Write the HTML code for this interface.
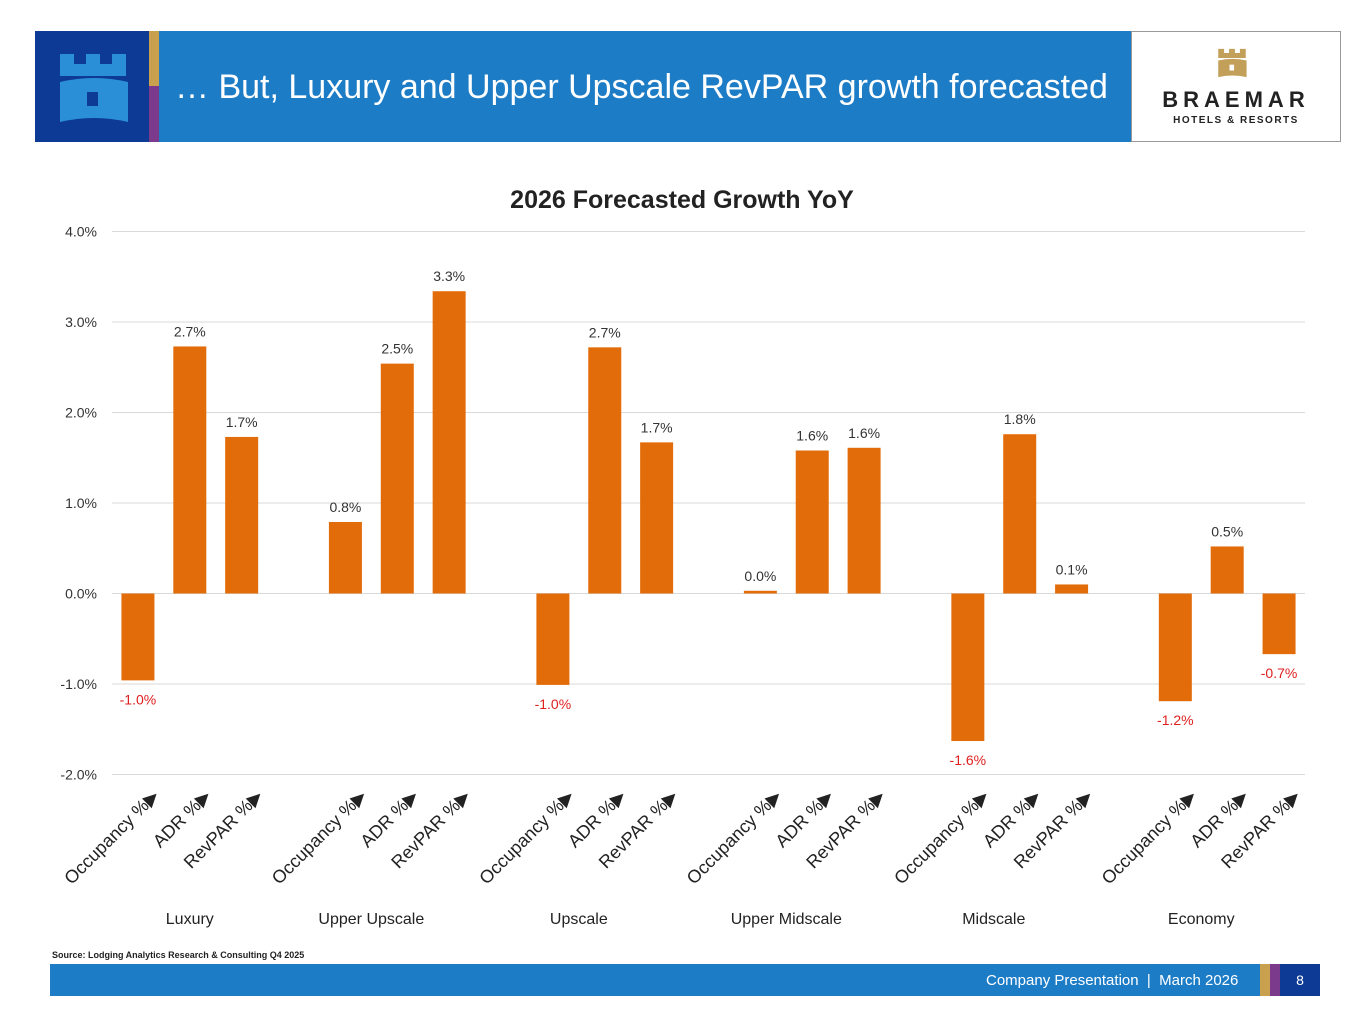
<!DOCTYPE html>
<html><head><meta charset="utf-8"><style>
body{margin:0;width:1365px;height:1030px;background:#fff;position:relative;overflow:hidden;font-family:"Liberation Sans",sans-serif}
.a{position:absolute}
</style></head><body>
<div class="a" style="left:35px;top:31px;width:114px;height:111px;background:#0d3a94"></div>
<svg class="a" style="left:58px;top:52px" width="70" height="72" viewBox="0 0 70 72"><path d="M2 2h14v10h12V2h14v10h12V2h14v22H2z M2 30q34-8 68 0v40q-34-8-68 0z" fill="#2a8fd6"/><rect x="29" y="40" width="11" height="14" fill="#0d3a94"/></svg>
<div class="a" style="left:149px;top:31px;width:10px;height:55px;background:#c9a04e"></div>
<div class="a" style="left:149px;top:86px;width:10px;height:56px;background:#7b3a8c"></div>
<div class="a" style="left:159px;top:31px;width:972px;height:111px;background:#1d7cc6"></div>
<div class="a" style="left:175px;top:68px;font-size:34px;color:#fff;white-space:nowrap">… But, Luxury and Upper Upscale RevPAR growth forecasted</div>
<div class="a" style="left:1131px;top:31px;width:208px;height:109px;border:1px solid #999;background:#fff"></div>
<svg class="a" style="left:1217px;top:48px" width="30" height="30" viewBox="0 0 70 72"><path d="M2 2h14v10h12V2h14v10h12V2h14v22H2z M2 30q34-8 68 0v40q-34-8-68 0z" fill="#c2a05a"/><rect x="29" y="40" width="11" height="14" fill="#fff"/></svg>
<div class="a" style="left:1131px;top:87px;width:210px;text-align:center;font-size:22px;font-weight:bold;letter-spacing:5px;color:#222">BRAEMAR</div>
<div class="a" style="left:1131px;top:115px;width:210px;text-align:center;font-size:10px;font-weight:bold;letter-spacing:1.5px;color:#222">HOTELS &amp; RESORTS</div>
<svg class="a" id="chart" style="left:0;top:0" width="1365" height="1030"></svg>
<div class="a" style="left:52px;top:950px;font-size:9px;font-weight:bold;color:#222">Source: Lodging Analytics Research &amp; Consulting Q4 2025</div>
<div class="a" style="left:50px;top:964px;width:1210px;height:32px;background:#1d7cc6"></div>
<div class="a" style="left:986px;top:972px;font-size:15px;color:#fff">Company Presentation &nbsp;|&nbsp; March 2026</div>
<div class="a" style="left:1260px;top:964px;width:10px;height:32px;background:#c9a04e"></div>
<div class="a" style="left:1270px;top:964px;width:10px;height:32px;background:#7b3a8c"></div>
<div class="a" style="left:1280px;top:964px;width:40px;height:32px;background:#0d3a94;color:#fff;font-size:14px;text-align:center;line-height:32px">8</div>
<script>
const groups=["Luxury","Upper Upscale","Upscale","Upper Midscale","Midscale","Economy"];
const metrics=["Occupancy %","ADR %","RevPAR %"];
const values=[[-0.96,2.73,1.73],[0.79,2.54,3.34],[-1.01,2.72,1.67],[0.03,1.58,1.61],[-1.63,1.76,0.10],[-1.19,0.52,-0.67]];
const labels=[["-1.0%","2.7%","1.7%"],["0.8%","2.5%","3.3%"],["-1.0%","2.7%","1.7%"],["0.0%","1.6%","1.6%"],["-1.6%","1.8%","0.1%"],["-1.2%","0.5%","-0.7%"]];
const ticks=[4,3,2,1,0,-1,-2];
const tickLabels=["4.0%","3.0%","2.0%","1.0%","0.0%","-1.0%","-2.0%"];
const svg=document.getElementById('chart');const NS="http://www.w3.org/2000/svg";
const x0=112,x1=1305,slot=(x1-x0)/23,bw=33;
const y=v=>593.5-v*90.5;
const xc=(g,m)=>x0+slot*(g*4+m)+slot/2;
function mk(t,a,txt){const e=document.createElementNS(NS,t);for(const k in a)e.setAttribute(k,a[k]);if(txt!=null)e.textContent=txt;svg.appendChild(e);return e;}
let e=mk('text',{x:682,y:208,'text-anchor':'middle','font-size':25,'font-weight':'bold',fill:'#222'},'2026 Forecasted Growth YoY');


ticks.forEach((t,i)=>{
 let l=mk('line',{x1:x0,x2:x1,y1:y(t),y2:y(t),stroke:'#d9d9d9','stroke-width':1});
 
 
 let tx=mk('text',{x:97,y:y(t)+5,'text-anchor':'end','font-size':14,fill:'#333'},tickLabels[i]);
 
 
});
values.forEach((row,g)=>{
 row.forEach((v,m)=>{
  const cx=xc(g,m);
  let r=mk('rect',{x:cx-bw/2,y:Math.min(y(v),y(0)),width:bw,height:Math.max(Math.abs(y(v)-y(0)),1),fill:'#e36c0a'});
  
  
  const neg=v<0;
  let t=mk('text',{x:cx,y:neg?y(v)+24:y(v)-10,'text-anchor':'middle','font-size':14,fill:neg?'#e02020':'#333'},labels[g][m]);
  
  
  let c=mk('text',{x:cx+22,y:797,'text-anchor':'end','font-size':18,fill:'#222',transform:`rotate(-45 ${cx+22} 797)`},metrics[m]+'▶');
  
  
 });
 const gx=g===0?xc(0,1):xc(g,0.5);
 let gl=mk('text',{x:gx,y:924,'text-anchor':'middle','font-size':16,fill:'#222'},groups[g]);
 
 
});
</script>
</body></html>
